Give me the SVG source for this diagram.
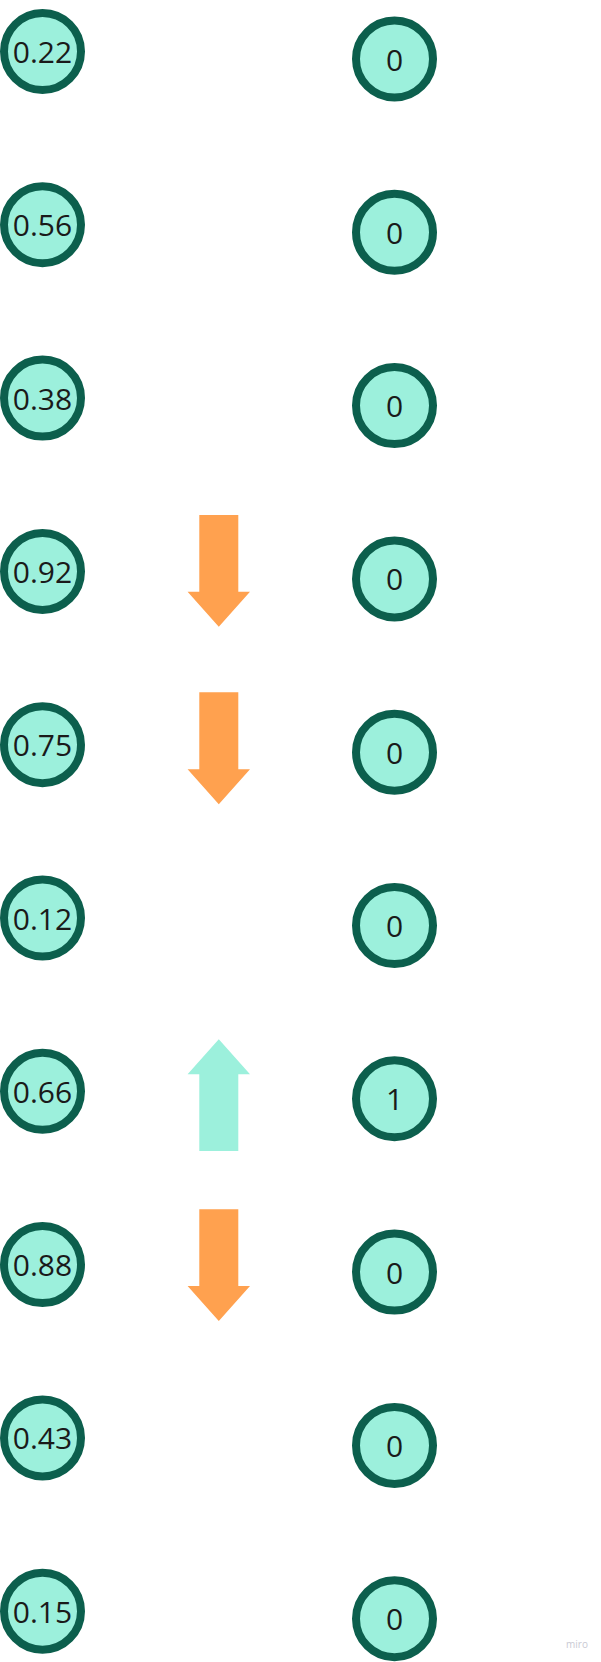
<svg xmlns="http://www.w3.org/2000/svg" width="601" height="1662" viewBox="0 0 601 1662">
<style>
.c{fill:#9cf0dc;stroke:#0c5f4d;stroke-width:8}
.t{font-family:"Open Sans","Noto Sans",sans-serif;font-size:30px;fill:#1a1a1a;text-anchor:middle}
.dn{fill:#ffa14f}
.up{fill:#9cf0dc}
</style>
<rect width="601" height="1662" fill="#ffffff"/>
<g id="left">
<g id="l0"><circle class="c" cx="42.5" cy="51.5" r="38.5"/><text class="t" x="42.5" y="63">0.22</text></g>
<g id="l1"><circle class="c" cx="42.5" cy="224.8" r="38.5"/><text class="t" x="42.5" y="236.3">0.56</text></g>
<g id="l2"><circle class="c" cx="42.5" cy="398.1" r="38.5"/><text class="t" x="42.5" y="409.6">0.38</text></g>
<g id="l3"><circle class="c" cx="42.5" cy="571.4" r="38.5"/><text class="t" x="42.5" y="582.9">0.92</text></g>
<g id="l4"><circle class="c" cx="42.5" cy="744.7" r="38.5"/><text class="t" x="42.5" y="756.2">0.75</text></g>
<g id="l5"><circle class="c" cx="42.5" cy="918" r="38.5"/><text class="t" x="42.5" y="929.5">0.12</text></g>
<g id="l6"><circle class="c" cx="42.5" cy="1091.3" r="38.5"/><text class="t" x="42.5" y="1102.8">0.66</text></g>
<g id="l7"><circle class="c" cx="42.5" cy="1264.6" r="38.5"/><text class="t" x="42.5" y="1276.1">0.88</text></g>
<g id="l8"><circle class="c" cx="42.5" cy="1437.9" r="38.5"/><text class="t" x="42.5" y="1449.4">0.43</text></g>
<g id="l9"><circle class="c" cx="42.5" cy="1611.2" r="38.5"/><text class="t" x="42.5" y="1622.7">0.15</text></g>
</g>
<g id="right">
<g id="r0"><circle class="c" cx="394.5" cy="59" r="38.5"/><text class="t" x="394.5" y="70.5">0</text></g>
<g id="r1"><circle class="c" cx="394.5" cy="232.3" r="38.5"/><text class="t" x="394.5" y="243.8">0</text></g>
<g id="r2"><circle class="c" cx="394.5" cy="405.6" r="38.5"/><text class="t" x="394.5" y="417.1">0</text></g>
<g id="r3"><circle class="c" cx="394.5" cy="578.9" r="38.5"/><text class="t" x="394.5" y="590.4">0</text></g>
<g id="r4"><circle class="c" cx="394.5" cy="752.2" r="38.5"/><text class="t" x="394.5" y="763.7">0</text></g>
<g id="r5"><circle class="c" cx="394.5" cy="925.5" r="38.5"/><text class="t" x="394.5" y="937">0</text></g>
<g id="r6"><circle class="c" cx="394.5" cy="1098.8" r="38.5"/><text class="t" x="394.5" y="1110.3">1</text></g>
<g id="r7"><circle class="c" cx="394.5" cy="1272.1" r="38.5"/><text class="t" x="394.5" y="1283.6">0</text></g>
<g id="r8"><circle class="c" cx="394.5" cy="1445.4" r="38.5"/><text class="t" x="394.5" y="1456.9">0</text></g>
<g id="r9"><circle class="c" cx="394.5" cy="1618.7" r="38.5"/><text class="t" x="394.5" y="1630.2">0</text></g>
</g>
<g id="arrows">
<polygon id="a1" class="dn" points="199.3,515 238.3,515 238.3,591.7 250,591.7 218.8,626.7 187.6,591.7 199.3,591.7"/>
<polygon id="a2" class="dn" points="199.3,692.3 238.3,692.3 238.3,769.3 250,769.3 218.8,804.3 187.6,769.3 199.3,769.3"/>
<polygon id="a3" class="up" points="218.8,1039.3 250,1074.3 238.3,1074.3 238.3,1151 199.3,1151 199.3,1074.3 187.6,1074.3"/>
<polygon id="a4" class="dn" points="199.3,1209.3 238.3,1209.3 238.3,1286 250,1286 218.8,1321 187.6,1286 199.3,1286"/>
</g>
<text x="577" y="1647.5" font-family="'Open Sans',sans-serif" font-size="10" fill="#c9c9d3" text-anchor="middle">miro</text>
</svg>
